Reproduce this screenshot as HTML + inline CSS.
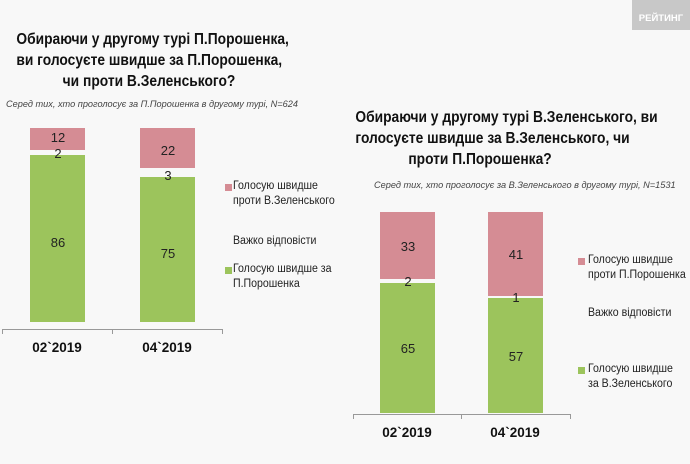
<!DOCTYPE html>
<html><head><meta charset="utf-8"><style>
body{margin:0;width:690px;height:464px;background:#f8f8f8;position:relative;overflow:hidden;font-family:"Liberation Sans",sans-serif;color:#111}
div{position:absolute}
.t{font-weight:bold;font-size:15.5px;text-align:center;line-height:21px;white-space:nowrap;transform:scaleX(0.89);transform-origin:center top}
.s{font-style:italic;font-size:9.2px;color:#444;white-space:nowrap}
.p{background:#d58c94}.g{background:#9cc45c}
.n{font-size:13px;text-align:center;width:56px;color:#222}
.x{font-weight:bold;font-size:13.5px;text-align:center;width:80px}
.l{font-size:11.5px;color:#222;line-height:15px;white-space:nowrap;transform:scaleX(0.92);transform-origin:left top}
.sq{width:7px;height:7px}
.ax{background:#999;height:1px}
.tk{background:#999;width:1px;height:5px}
</style></head><body>
<div style="left:632px;top:0;width:58px;height:30px;background:#c8c8c8"></div>
<div style="left:633px;top:13px;width:56px;text-align:center;font-size:9.5px;font-weight:bold;color:#fff">РЕЙТИНГ</div>

<div class="t" style="left:0;top:29px;width:298px">Обираючи у другому турі П.Порошенка,<br>ви голосуєте швидше за П.Порошенка,<br>чи проти В.Зеленського?</div>
<div class="s" style="left:6px;top:99px">Серед тих, хто проголосує за П.Порошенка в другому турі, N=624</div>

<div class="p" style="left:30px;top:128px;width:55px;height:22px"></div>
<div class="g" style="left:30px;top:155px;width:55px;height:167px"></div>
<div class="p" style="left:140px;top:128px;width:55px;height:40px"></div>
<div class="g" style="left:140px;top:177px;width:55px;height:145px"></div>
<div class="n" style="left:30px;top:130px">12</div>
<div class="n" style="left:30px;top:146px">2</div>
<div class="n" style="left:30px;top:235px">86</div>
<div class="n" style="left:140px;top:143px">22</div>
<div class="n" style="left:140px;top:168px">3</div>
<div class="n" style="left:140px;top:246px">75</div>
<div class="ax" style="left:2px;top:329px;width:221px"></div>
<div class="tk" style="left:2px;top:329px"></div><div class="tk" style="left:112px;top:329px"></div><div class="tk" style="left:222px;top:329px"></div>
<div class="x" style="left:17px;top:340px">02`2019</div>
<div class="x" style="left:127px;top:340px">04`2019</div>
<div class="sq p" style="left:225px;top:184px"></div>
<div class="l" style="left:233px;top:179px">Голосую швидше<br>проти В.Зеленського</div>
<div class="l" style="left:233px;top:234px">Важко відповісти</div>
<div class="sq g" style="left:225px;top:267px"></div>
<div class="l" style="left:233px;top:262px">Голосую швидше за<br>П.Порошенка</div>

<div class="t" style="left:340px;top:107px;width:280px">Обираючи у другому турі В.Зеленського, ви<br>голосуєте швидше за В.Зеленського, чи<br>проти П.Порошенка?</div>
<div class="s" style="left:374px;top:180px">Серед тих, хто проголосує за В.Зеленського в другому турі, N=1531</div>

<div class="p" style="left:380px;top:212px;width:55px;height:67px"></div>
<div class="g" style="left:380px;top:283px;width:55px;height:130px"></div>
<div class="p" style="left:488px;top:212px;width:55px;height:84px"></div>
<div class="g" style="left:488px;top:298px;width:55px;height:115px"></div>
<div class="n" style="left:380px;top:239px">33</div>
<div class="n" style="left:380px;top:274px">2</div>
<div class="n" style="left:380px;top:341px">65</div>
<div class="n" style="left:488px;top:247px">41</div>
<div class="n" style="left:488px;top:290px">1</div>
<div class="n" style="left:488px;top:349px">57</div>
<div class="ax" style="left:353px;top:414px;width:218px"></div>
<div class="tk" style="left:353px;top:414px"></div><div class="tk" style="left:461px;top:414px"></div><div class="tk" style="left:570px;top:414px"></div>
<div class="x" style="left:367px;top:425px">02`2019</div>
<div class="x" style="left:475px;top:425px">04`2019</div>
<div class="sq p" style="left:578px;top:258px"></div>
<div class="l" style="left:588px;top:253px">Голосую швидше<br>проти П.Порошенка</div>
<div class="l" style="left:588px;top:306px">Важко відповісти</div>
<div class="sq g" style="left:578px;top:367px"></div>
<div class="l" style="left:588px;top:362px">Голосую швидше<br>за В.Зеленського</div>
</body></html>
